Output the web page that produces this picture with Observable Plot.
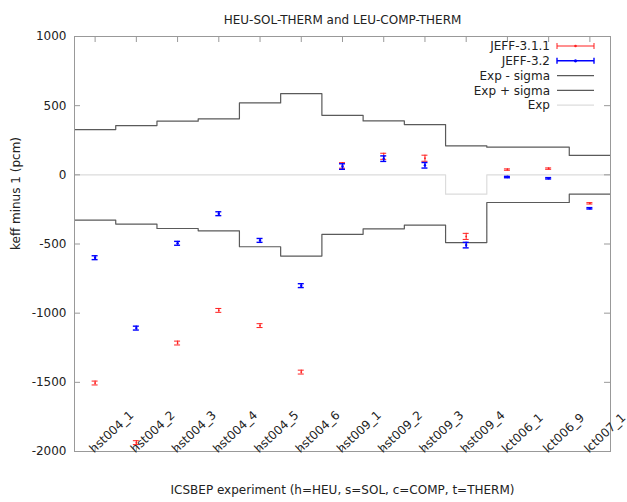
<!DOCTYPE html>
<html>
<head>
<meta charset="utf-8">
<script src="https://cdn.jsdelivr.net/npm/d3@7"></script>
<script src="https://cdn.jsdelivr.net/npm/@observablehq/plot@0.6"></script>
<style>
  html, body { margin: 0; padding: 0; background: #fff; }
  #chart svg { display: block; }
</style>
</head>
<body>
<div id="chart"></div>
<script>
// ---- data ----
const labels = ["hst004_1","hst004_2","hst004_3","hst004_4","hst004_5","hst004_6",
                "hst009_1","hst009_2","hst009_3","hst009_4","lct006_1","lct006_9","lct007_1"];
const jeff311 = [-1505, -1936, -1216, -980, -1090, -1426, 68, 134, 120, -445, 38, 45, -206];
const err311  = [14, 14, 14, 14, 14, 14, 20, 22, 22, 22, 5, 5, 5];
const jeff32  = [-599, -1108, -495, -281, -474, -801, 60, 117, 69, -508, -16, -25, -242];
const err32   = [14, 14, 14, 14, 14, 14, 20, 20, 20, 20, 5, 5, 5];
const expVal  = [0, 0, 0, 0, 0, 0, 0, 0, 0, -140, 0, 0, 0];
const sigma   = [327, 356, 388, 405, 520, 587, 430, 390, 363, 350, 200, 200, 140];
const yTicks  = [-2000, -1500, -1000, -500, 0, 500, 1000];
const title = "HEU-SOL-THERM and LEU-COMP-THERM";
const xLabel = "ICSBEP experiment (h=HEU, s=SOL, c=COMP, t=THERM)";
const yLabel = "keff minus 1 (pcm)";

// ---- layout ----
const W = 627, H = 502;
const mL = 74, mR = 17, mT = 36, mB = 51;
const pw = W - mL - mR, ph = H - mT - mB;
const font = "DejaVu Sans, sans-serif";

const idx = labels.map((d, i) => i + 1);
const pts = (vals, errs, name) => vals.map((v, i) => ({x: i + 1, y: v, lo: v - errs[i], hi: v + errs[i], name}));
const red = pts(jeff311, err311, "JEFF-3.1.1");
const blue = pts(jeff32, err32, "JEFF-3.2");
function steps(vals) {
  const a = vals.map((v, i) => ({x: i + 0.5, y: v}));
  a.push({x: vals.length + 0.5, y: vals[vals.length - 1]});
  return a;
}
const upper = steps(expVal.map((e, i) => e + sigma[i]));
const lower = steps(expVal.map((e, i) => e - sigma[i]));
const expLine = steps(expVal);

function errMarks(data, color, sw, r) {
  return [
    Plot.ruleX(data, {x: "x", y1: "lo", y2: "hi", stroke: color, strokeWidth: sw}),
    Plot.ruleY(data, {x1: "x", x2: "x", y: "lo", stroke: color, strokeWidth: sw, insetLeft: -3, insetRight: -3}),
    Plot.ruleY(data, {x1: "x", x2: "x", y: "hi", stroke: color, strokeWidth: sw, insetLeft: -3, insetRight: -3}),
    Plot.dot(data, {x: "x", y: "y", r: r, fill: color, stroke: "none"})
  ];
}

const chart = Plot.plot({
  width: W, height: H,
  marginLeft: mL, marginRight: mR, marginTop: mT, marginBottom: mB,
  style: {fontFamily: font, fontSize: "12px", color: "#222", background: "#fff"},
  x: {domain: [0.5, labels.length + 0.5], axis: null},
  y: {domain: [-2000, 1000], axis: null},
  marks: [
    Plot.line(expLine, {x: "x", y: "y", curve: "step-after", stroke: "#dcdcdc", strokeWidth: 1.2}),
    Plot.line(lower, {x: "x", y: "y", curve: "step-after", stroke: "#5a5a5a", strokeWidth: 1.2}),
    Plot.line(upper, {x: "x", y: "y", curve: "step-after", stroke: "#5a5a5a", strokeWidth: 1.2}),
    ...errMarks(red, "#ff2020", 1, 0.9),
    ...errMarks(blue, "#0000ff", 1.4, 1.2),
    Plot.frame({stroke: "#999", strokeWidth: 1}),
    // inward ticks
    Plot.ruleY(yTicks, {y: d => d, stroke: "#999", insetRight: pw - 6}),
    Plot.ruleY(yTicks, {y: d => d, stroke: "#999", insetLeft: pw - 6}),
    Plot.ruleX(idx, {x: d => d, stroke: "#999", insetTop: ph - 6}),
    Plot.ruleX(idx, {x: d => d, stroke: "#999", insetBottom: ph - 6}),
    // y tick labels
    Plot.text(yTicks, {y: d => d, text: d => String(d), frameAnchor: "left", textAnchor: "end", dx: -8, fill: "#222"}),
    // x tick labels (rotated)
    Plot.text(labels, {x: (d, i) => i + 1, text: d => d, frameAnchor: "bottom", textAnchor: "start", lineAnchor: "bottom", rotate: -43, dx: -1, dy: 2, fill: "#222"}),
    // titles
    Plot.text([title], {text: d => d, frameAnchor: "top", dy: -21, fill: "#222"}),
    Plot.text([xLabel], {text: d => d, frameAnchor: "bottom", dy: 42, fill: "#222"}),
    Plot.text([yLabel], {text: d => d, frameAnchor: "left", rotate: -90, dx: -58, dy: 6, fill: "#222"})
  ]
});
document.getElementById("chart").appendChild(chart);

// ---- legend ----
const svg = d3.select(chart);
const lg = svg.append("g").attr("font-family", font).attr("font-size", 12).attr("fill", "#222");
const entries = [
  {name: "JEFF-3.1.1", type: "err", color: "#ff2020", sw: 1, r: 0.9},
  {name: "JEFF-3.2", type: "err", color: "#0000ff", sw: 1.4, r: 1.2},
  {name: "Exp - sigma", type: "line", color: "#5a5a5a"},
  {name: "Exp + sigma", type: "line", color: "#5a5a5a"},
  {name: "Exp", type: "line", color: "#dcdcdc"}
];
const lx0 = 557, lx1 = 594, tx = 550, ly0 = 46, lstep = 14.8;
entries.forEach((e, i) => {
  const y = ly0 + i * lstep;
  lg.append("text").attr("x", tx).attr("y", y).attr("dy", "0.35em").attr("text-anchor", "end").text(e.name);
  if (e.type === "err") {
    lg.append("line").attr("x1", lx0).attr("x2", lx1).attr("y1", y).attr("y2", y).attr("stroke", e.color).attr("stroke-width", e.sw);
    lg.append("line").attr("x1", lx0).attr("x2", lx0).attr("y1", y - 3).attr("y2", y + 3).attr("stroke", e.color).attr("stroke-width", e.sw);
    lg.append("line").attr("x1", lx1).attr("x2", lx1).attr("y1", y - 3).attr("y2", y + 3).attr("stroke", e.color).attr("stroke-width", e.sw);
    lg.append("circle").attr("cx", (lx0 + lx1) / 2).attr("cy", y).attr("r", e.r + 0.4).attr("fill", e.color);
  } else {
    lg.append("line").attr("x1", lx0).attr("x2", lx1).attr("y1", y).attr("y2", y).attr("stroke", e.color).attr("stroke-width", 1.2);
  }
});
</script>
</body>
</html>
